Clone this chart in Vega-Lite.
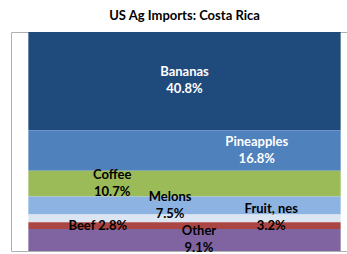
{
  "$schema": "https://vega.github.io/schema/vega-lite/v6.json",
  "width": 347,
  "height": 219,
  "autosize": {"type": "none"},
  "padding": {"left": 11, "top": 32, "right": 0, "bottom": 3},
  "background": "white",
  "title": {"text": "US Ag Imports: Costa Rica", "font": "Lato", "fontSize": 13, "fontWeight": "bold", "color": "#000000", "offset": 9, "anchor": "middle"},
  "config": {"view": {"stroke": "#b0b0b0", "strokeWidth": 1}},
  "data": {"values": [
    {"category": "Bananas", "value": 40.8, "line1": "Bananas", "line2": "40.8%"},
    {"category": "Pineapples", "value": 16.8, "line1": "Pineapples", "line2": "16.8%"},
    {"category": "Coffee", "value": 10.7, "line1": "Coffee", "line2": "10.7%"},
    {"category": "Melons", "value": 7.5, "line1": "Melons", "line2": "7.5%"},
    {"category": "Fruit, nes", "value": 3.2, "line1": "Fruit, nes", "line2": "3.2%"},
    {"category": "Beef", "value": 2.8, "line1": "Beef 2.8%", "line2": ""},
    {"category": "Other", "value": 9.1, "line1": "Other", "line2": "9.1%"}
  ]},
  "transform": [
    {"calculate": "indexof(['Other','Beef','Fruit, nes','Melons','Coffee','Pineapples','Bananas'], datum.category)", "as": "ord"},
    {"stack": "value", "groupby": [], "sort": [{"field": "ord", "order": "ascending"}], "as": ["v0", "v1"]},
    {"calculate": "(datum.v0 + datum.v1) / 2", "as": "mid"}
  ],
  "layer": [
    {
      "mark": {"type": "bar"},
      "encoding": {
        "y": {"field": "v0", "type": "quantitative", "scale": {"nice": false, "zero": true}, "axis": null},
        "y2": {"field": "v1"},
        "color": {
          "field": "category", "type": "nominal", "legend": null,
          "scale": {
            "domain": ["Bananas", "Pineapples", "Coffee", "Melons", "Fruit, nes", "Beef", "Other"],
            "range": ["#1f4a7c", "#4f81bd", "#9bbb59", "#8db3e2", "#dce6f2", "#aa4543", "#8064a2"]
          }
        }
      }
    },
    {
      "transform": [{"filter": "datum.line2 != ''"}],
      "mark": {"type": "text", "font": "Lato", "fontSize": 13, "fontWeight": "bold", "align": "center", "baseline": "middle", "dy": -9},
      "encoding": {
        "x": {"field": "category", "type": "nominal", "axis": null,
              "scale": {"type": "point", "padding": 1, "domain": ["s0", "s1", "s2", "s3", "s4", "Beef", "Coffee", "s7", "s8", "s9", "Melons", "Bananas", "Other", "s13", "s14", "s15", "Pineapples", "Fruit, nes", "s18", "s19", "s20", "s21", "s22"]}},
        "y": {"field": "mid", "type": "quantitative"},
        "text": {"field": "line1"},
        "color": {"condition": {"test": "datum.category == 'Bananas' || datum.category == 'Pineapples'", "value": "white"}, "value": "black"}
      }
    },
    {
      "transform": [{"filter": "datum.line2 != ''"}],
      "mark": {"type": "text", "font": "Lato", "fontSize": 13, "fontWeight": "bold", "align": "center", "baseline": "middle", "dy": 8},
      "encoding": {
        "x": {"field": "category", "type": "nominal"},
        "y": {"field": "mid", "type": "quantitative"},
        "text": {"field": "line2"},
        "color": {"condition": {"test": "datum.category == 'Bananas' || datum.category == 'Pineapples'", "value": "white"}, "value": "black"}
      }
    },
    {
      "transform": [{"filter": "datum.line2 == ''"}],
      "mark": {"type": "text", "font": "Lato", "fontSize": 13, "fontWeight": "bold", "align": "center", "baseline": "middle"},
      "encoding": {
        "x": {"field": "category", "type": "nominal"},
        "y": {"field": "mid", "type": "quantitative"},
        "text": {"field": "line1"},
        "color": {"value": "black"}
      }
    }
  ]
}
